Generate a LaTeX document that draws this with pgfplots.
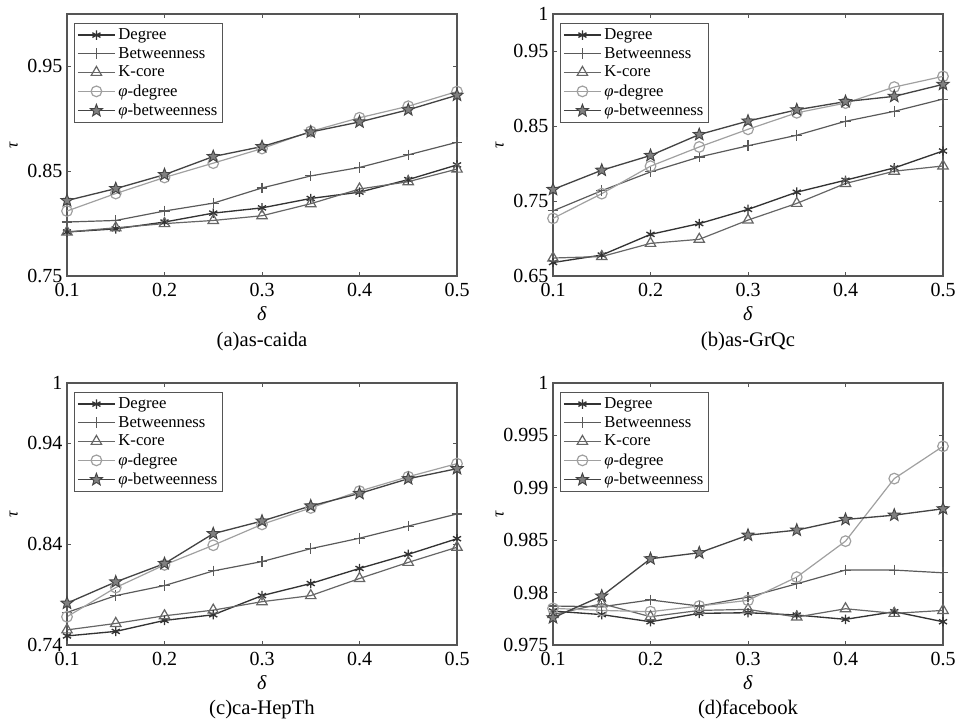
\documentclass[border=0pt]{standalone}
\usepackage{fontspec}
\setmainfont{Liberation Serif}
\usepackage{pgfplots}
\usepackage{pgfplotstable}
\pgfplotsset{compat=1.18}

\definecolor{cDeg}{HTML}{333333}
\definecolor{cBtw}{HTML}{5A5A5A}
\definecolor{cKc}{HTML}{666666}
\definecolor{cPhd}{HTML}{A0A0A0}
\definecolor{cPhb}{HTML}{444444}
\definecolor{cAx}{HTML}{555555}

\pgfdeclareplotmark{fstar}{%
  \pgfpathmoveto{\pgfqpointpolar{90}{\pgfplotmarksize}}%
  \pgfpathlineto{\pgfqpointpolar{126}{0.42\pgfplotmarksize}}%
  \pgfpathlineto{\pgfqpointpolar{162}{\pgfplotmarksize}}%
  \pgfpathlineto{\pgfqpointpolar{198}{0.42\pgfplotmarksize}}%
  \pgfpathlineto{\pgfqpointpolar{234}{\pgfplotmarksize}}%
  \pgfpathlineto{\pgfqpointpolar{270}{0.42\pgfplotmarksize}}%
  \pgfpathlineto{\pgfqpointpolar{306}{\pgfplotmarksize}}%
  \pgfpathlineto{\pgfqpointpolar{342}{0.42\pgfplotmarksize}}%
  \pgfpathlineto{\pgfqpointpolar{18}{\pgfplotmarksize}}%
  \pgfpathlineto{\pgfqpointpolar{54}{0.42\pgfplotmarksize}}%
  \pgfpathclose
  \pgfusepathqfillstroke
}

\pgfplotstableread{
x deg btw kc phd phb
0.10 0.792 0.8015 0.792 0.812 0.822
0.15 0.795 0.803 0.796 0.8287 0.8334
0.20 0.8015 0.812 0.800 0.844 0.8467
0.25 0.810 0.8195 0.803 0.8577 0.864
0.30 0.815 0.834 0.8075 0.8716 0.8735
0.35 0.824 0.8455 0.819 0.888 0.8874
0.40 0.830 0.8536 0.833 0.901 0.897
0.45 0.842 0.8656 0.840 0.912 0.9086
0.50 0.856 0.8776 0.852 0.926 0.9225
}\dataA
\pgfplotstableread{
x deg btw kc phd phb
0.10 0.668 0.737 0.674 0.727 0.7656
0.15 0.678 0.764 0.676 0.760 0.7913
0.20 0.7056 0.789 0.6936 0.7967 0.811
0.25 0.720 0.809 0.699 0.8224 0.839
0.30 0.739 0.824 0.7247 0.846 0.857
0.35 0.762 0.838 0.747 0.868 0.872
0.40 0.778 0.8567 0.7736 0.881 0.883
0.45 0.7944 0.870 0.790 0.9024 0.890
0.50 0.817 0.8864 0.797 0.9167 0.906
}\dataB
\pgfplotstableread{
x deg btw kc phd phb
0.10 0.749 0.7723 0.755 0.768 0.7815
0.15 0.7535 0.789 0.7614 0.797 0.8026
0.20 0.7644 0.799 0.769 0.8195 0.8208
0.25 0.770 0.8135 0.7746 0.839 0.8505
0.30 0.789 0.8228 0.783 0.8597 0.863
0.35 0.801 0.8356 0.789 0.876 0.878
0.40 0.816 0.846 0.806 0.8927 0.8904
0.45 0.830 0.858 0.822 0.907 0.905
0.50 0.8455 0.870 0.837 0.920 0.915
}\dataC
\pgfplotstableread{
x deg btw kc phd phb
0.10 0.97824 0.97872 0.9779 0.9785 0.9776
0.15 0.9779 0.97865 0.97894 0.9783 0.97967
0.20 0.97722 0.9793 0.9777 0.97818 0.98323
0.25 0.97802 0.97872 0.9783 0.97872 0.9838
0.30 0.97808 0.97957 0.9784 0.97926 0.98548
0.35 0.97786 0.98084 0.97767 0.98148 0.98596
0.40 0.97745 0.98215 0.97846 0.98491 0.98698
0.45 0.97818 0.98215 0.97802 0.99088 0.98739
0.50 0.97722 0.98189 0.9783 0.99396 0.9880
}\dataD

\pgfplotsset{
  panel/.style={
    scale only axis, width=292.5pt, height=196.5pt,
    anchor=south west, clip=false,
    xmin=0.1, xmax=0.5,
    xtick={0.1,0.2,0.3,0.4,0.5},
    xticklabels={0.1,0.2,0.3,0.4,0.5},
    /pgf/number format/assume math mode=true,
    tick label style={font=\fontsize{15}{15}\selectfont, text=black},
    xticklabel style={yshift=-2pt},
    tick align=inside, major tick length=3pt,
    tick style={cAx, line width=0.6pt},
    axis line style={cAx, line width=0.8pt},
    xlabel={\textit{δ}},
    xlabel style={at={(axis description cs:0.5,0)}, anchor=center, yshift=-28pt, font=\fontsize{15}{15}\selectfont},
    ylabel={\textit{τ}},
    ylabel style={at={(axis description cs:0,0.5)}, anchor=center, yshift=40pt, font=\fontsize{13}{13}\selectfont},
    legend style={at={(0.018,0.966)}, anchor=north west, draw=cAx, line width=0.6pt,
      fill=white, font=\fontsize{12.5}{13}\selectfont, inner xsep=2pt, inner ysep=2pt,
      row sep=0.3pt},
    legend cell align=left,
    legend image code/.code={\draw[mark repeat=2,mark phase=2,#1] plot coordinates {(0pt,0pt) (14pt,0pt) (28pt,0pt)};},
  },
  sDeg/.style={color=cDeg, line width=1pt, mark=asterisk, mark size=3.5pt, mark options={line width=1pt}},
  sBtw/.style={color=cBtw, line width=0.9pt, mark=+, mark size=4pt, mark options={line width=0.8pt}},
  sKc/.style={color=cKc, line width=0.9pt, mark=triangle, mark size=4.5pt, mark options={line width=0.9pt, fill=none}},
  sPhd/.style={color=cPhd, line width=0.9pt, mark=o, mark size=4pt, mark options={line width=0.9pt, fill=none}},
  sPhb/.style={color=cPhb, line width=1pt, mark=fstar, mark size=4.8pt, mark options={line width=0.7pt, draw=cPhb, fill=gray}},
}

\newcommand{\allplots}[1]{%
  \addplot[sDeg] table[x=x,y=deg] {#1};
  \addplot[sBtw] table[x=x,y=btw] {#1};
  \addplot[sKc] table[x=x,y=kc] {#1};
  \addplot[sPhd] table[x=x,y=phd] {#1};
  \addplot[sPhb] table[x=x,y=phb] {#1};
  \legend{Degree,Betweenness,K-core,\textit{φ}-degree,\textit{φ}-betweenness}
}

\begin{document}
\begin{tikzpicture}
\useasboundingbox (0,0) rectangle (719.25pt,539.25pt);

\begin{axis}[panel, at={(50.25pt,332.25pt)},
  ymin=0.75, ymax=1, ytick={0.75,0.85,0.95}, yticklabels={0.75,0.85,0.95}]
  \allplots{\dataA}
  \node[font=\fontsize{15.5}{15.5}\selectfont] at (axis description cs:0.5,0) [yshift=-49.5pt] {(a)as-caida};
\end{axis}

\begin{axis}[panel, at={(414.75pt,332.25pt)},
  ymin=0.65, ymax=1, ytick={0.65,0.75,0.85,0.95,1}, yticklabels={0.65,0.75,0.85,0.95,1}]
  \allplots{\dataB}
  \node[font=\fontsize{15.5}{15.5}\selectfont] at (axis description cs:0.5,0) [yshift=-49.5pt] {(b)as-GrQc};
\end{axis}

\begin{axis}[panel, at={(50.25pt,55.5pt)},
  ymin=0.74, ymax=1, ytick={0.74,0.84,0.94,1}, yticklabels={0.74,0.84,0.94,1}]
  \allplots{\dataC}
  \node[font=\fontsize{15.5}{15.5}\selectfont] at (axis description cs:0.5,0) [yshift=-48.5pt] {(c)ca-HepTh};
\end{axis}

\begin{axis}[panel, at={(414.75pt,55.5pt)},
  ymin=0.975, ymax=1, ytick={0.975,0.98,0.985,0.99,0.995,1}, yticklabels={0.975,0.98,0.985,0.99,0.995,1}]
  \allplots{\dataD}
  \node[font=\fontsize{15.5}{15.5}\selectfont] at (axis description cs:0.5,0) [yshift=-48.5pt] {(d)facebook};
\end{axis}
\end{tikzpicture}
\end{document}
